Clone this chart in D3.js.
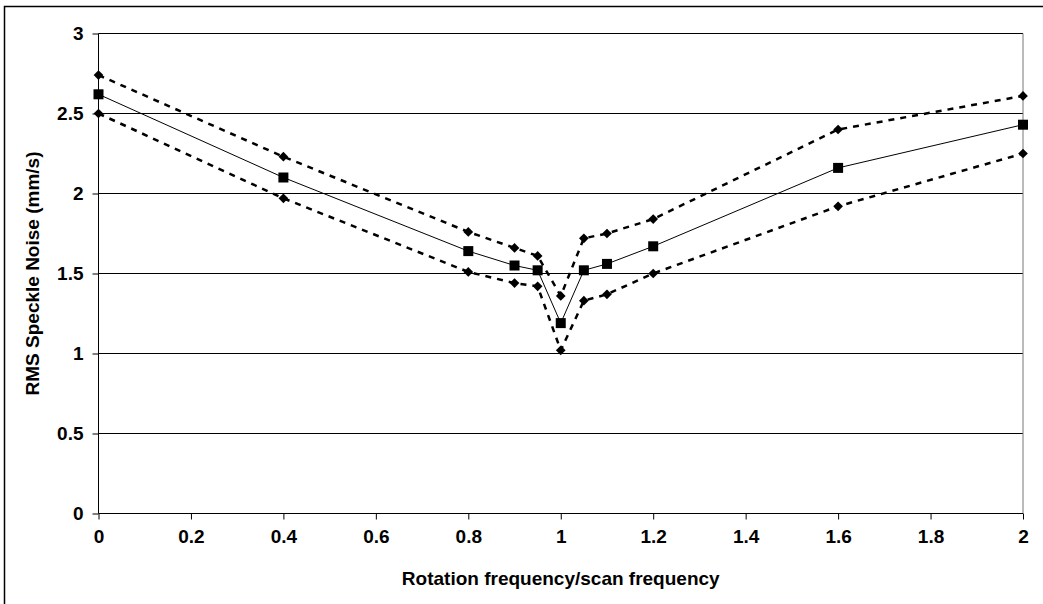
<!DOCTYPE html>
<html>
<head>
<meta charset="utf-8">
<script src="https://cdn.jsdelivr.net/npm/d3@7"></script>
<style>
    body { margin: 0; background: #fff; }
    svg { display: block; }
    .tick text { font-family: "Liberation Sans", Arial, sans-serif; font-weight: bold; font-size: 19px; fill: #000; }
    .axis-title { font-family: "Liberation Sans", Arial, sans-serif; font-weight: bold; font-size: 19px; fill: #000; }
</style>
</head>
<body>
<div id="chart"></div>
<script>

// ratio of rotation frequency to scan frequency
const ratios = [0, 0.4, 0.8, 0.9, 0.95, 1, 1.05, 1.1, 1.2, 1.6, 2];

// RMS speckle noise (mm/s), mean and upper / lower bounds
const meanNoise  = [2.62, 2.10, 1.64, 1.55, 1.52, 1.19, 1.52, 1.56, 1.67, 2.16, 2.43];
const upperNoise = [2.74, 2.23, 1.76, 1.66, 1.61, 1.36, 1.72, 1.75, 1.84, 2.40, 2.61];
const lowerNoise = [2.50, 1.97, 1.51, 1.44, 1.42, 1.02, 1.33, 1.37, 1.50, 1.92, 2.25];

const xTicks = [0, 0.2, 0.4, 0.6, 0.8, 1, 1.2, 1.4, 1.6, 1.8, 2];
const yTicks = [0, 0.5, 1, 1.5, 2, 2.5, 3];

const width = 1043, height = 604;
const margin = {top: 33.5, right: 20, bottom: 90.5, left: 98.5};
const plotW = width - margin.left - margin.right;
const plotH = height - margin.top - margin.bottom;

const svg = d3.select("#chart").append("svg")
    .attr("width", width)
    .attr("height", height);

// outer frame (runs off the right and bottom edge)
svg.append("rect")
    .attr("x", 4.5).attr("y", 6.5)
    .attr("width", width + 10).attr("height", height + 10)
    .attr("fill", "none")
    .attr("stroke", "#000")
    .attr("stroke-width", 1.5);

const g = svg.append("g")
    .attr("transform", "translate(" + margin.left + "," + margin.top + ")");

const x = d3.scaleLinear().domain([0, 2]).range([0, plotW]);
const y = d3.scaleLinear().domain([0, 3]).range([plotH, 0]);

// grid lines
g.append("g")
    .selectAll("line")
    .data(yTicks.filter(d => d > 0))
    .enter().append("line")
    .attr("x1", 0).attr("x2", plotW)
    .attr("y1", d => y(d)).attr("y2", d => y(d))
    .attr("stroke", "#000")
    .attr("stroke-width", 1);

// right edge of plot area
g.append("line")
    .attr("x1", plotW).attr("x2", plotW)
    .attr("y1", 0).attr("y2", plotH)
    .attr("stroke", "#777")
    .attr("stroke-width", 1);

// axes
const xAxis = d3.axisBottom(x).tickValues(xTicks).tickSize(6).tickPadding(10)
    .tickFormat(d => d3.format("")(d));
const yAxis = d3.axisLeft(y).tickValues(yTicks).tickSize(6).tickPadding(9)
    .tickFormat(d => d3.format("")(d));

g.append("g")
    .attr("class", "x-axis")
    .attr("transform", "translate(0," + plotH + ")")
    .call(xAxis)
    .call(a => a.select(".domain").attr("stroke", "#000").attr("d", "M0,0H" + plotW));

g.append("g")
    .attr("class", "y-axis")
    .call(yAxis)
    .call(a => a.select(".domain").attr("stroke", "#000").attr("d", "M0," + plotH + "V0"));

// series
const mk = vals => ratios.map((r, i) => ({x: r, y: vals[i]}));
const line = d3.line().x(d => x(d.x)).y(d => y(d.y));

[upperNoise, lowerNoise].forEach(vals => {
    g.append("path")
        .datum(mk(vals))
        .attr("d", line)
        .attr("fill", "none")
        .attr("stroke", "#000")
        .attr("stroke-width", 2.5)
        .attr("stroke-dasharray", "6,6");

    g.append("g")
        .selectAll("path")
        .data(mk(vals))
        .enter().append("path")
        .attr("d", d3.symbol().type(d3.symbolDiamond2).size(60))
        .attr("transform", d => "translate(" + x(d.x) + "," + y(d.y) + ")")
        .attr("fill", "#000");
});

g.append("path")
    .datum(mk(meanNoise))
    .attr("d", line)
    .attr("fill", "none")
    .attr("stroke", "#000")
    .attr("stroke-width", 1);

g.append("g")
    .selectAll("rect")
    .data(mk(meanNoise))
    .enter().append("rect")
    .attr("x", d => x(d.x) - 5)
    .attr("y", d => y(d.y) - 5)
    .attr("width", 10)
    .attr("height", 10)
    .attr("fill", "#000");

// axis titles
svg.append("text")
    .attr("class", "axis-title")
    .attr("x", margin.left + plotW / 2)
    .attr("y", 585)
    .attr("text-anchor", "middle")
    .text("Rotation frequency/scan frequency");

svg.append("text")
    .attr("class", "axis-title")
    .attr("transform", "translate(39," + (margin.top + plotH / 2) + ") rotate(-90)")
    .attr("text-anchor", "middle")
    .text("RMS Speckle Noise (mm/s)");

</script>
</body>
</html>
